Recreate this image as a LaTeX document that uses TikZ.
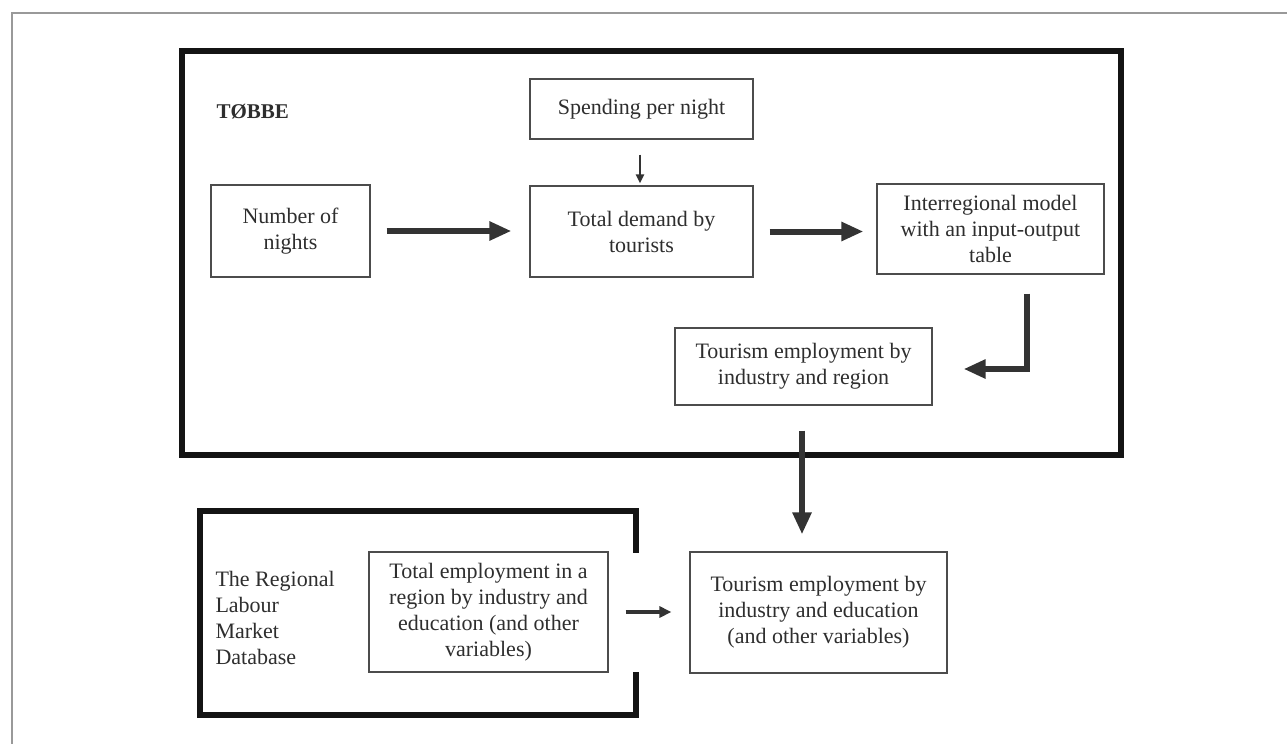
\documentclass[tikz,border=0pt]{standalone}
\usepackage{fontspec}
\setmainfont{Liberation Serif}
\usetikzlibrary{arrows.meta}
\begin{document}
\begin{tikzpicture}[x=1pt,y=-1pt,
  every node/.style={font=\fontsize{22}{26}\selectfont, text=black!82},
  box/.style={draw=black!70, line width=1.2pt, inner sep=0pt, align=center},
  frame/.style={draw=black!92, line width=6pt, line join=miter, line cap=rect},
  bigarrow/.style={draw=black!80, line width=6pt, -{Triangle[length=22pt,width=18pt]}},
  midarrow/.style={draw=black!80, line width=3.5pt, -{Triangle[length=12pt,width=11pt]}},
  thinarrow/.style={draw=black!80, line width=2pt, -{Triangle[length=9pt,width=8pt]}}]
\useasboundingbox (0,0) rectangle (1287,744);
\fill[white] (0,0) rectangle (1287,744);
% page border
\draw[black!40, line width=1.5pt] (1287,13) -- (12,13) -- (12,744);
% frames
\draw[frame] (182,51) rectangle (1121,455);
\draw[frame] (636,550) -- (636,511) -- (200,511) -- (200,715) -- (636,715) -- (636,675);
% labels
\node[anchor=west, font=\bfseries\fontsize{21}{25}\selectfont] (tobbe) at (213,112) {TØBBE};
\node[anchor=west, align=left] (rlmd) at (212,618) {The Regional\\Labour\\Market\\Database};
% boxes
\node[box, minimum width=223pt, minimum height=60pt] (spend) at (641.5,109) {Spending per night};
\node[box, minimum width=223pt, minimum height=91pt] (total) at (641.5,231.5) {Total demand by\\tourists};
\node[box, minimum width=159pt, minimum height=92pt] (nights) at (290.5,231) {Number of\\nights};
\node[box, minimum width=227pt, minimum height=90pt] (inter) at (990.5,229) {Interregional model\\with an input-output\\table};
\node[box, minimum width=257pt, minimum height=77pt] (temreg) at (803.5,366.5) {Tourism employment by\\industry and region};
\node[box, minimum width=257pt, minimum height=121pt] (temedu) at (818.5,612.5) {Tourism employment by\\industry and education\\(and other variables)};
\node[box, minimum width=239pt, minimum height=120pt] (totemp) at (488.5,612) {Total employment in a\\region by industry and\\education (and other\\variables)};
% connectors
\draw[bigarrow] ([xshift=16pt]nights.east) -- ([xshift=-18pt]nights.east -| total.west);
\draw[bigarrow] ([xshift=16pt]total.east) -- ([xshift=-13pt]total.east -| inter.west);
\draw[thinarrow] ([xshift=-1.5pt,yshift=-15pt]spend.south) -- ([xshift=-1.5pt,yshift=2pt]total.north);
\draw[bigarrow, line join=miter] ([xshift=36.5pt,yshift=-19pt]inter.south) |- ([xshift=31pt,yshift=-2.5pt]temreg.east);
\draw[bigarrow] ([xshift=-1.5pt,yshift=-25pt]temreg.south) -- ([xshift=-16.5pt,yshift=17pt]temedu.north);
\draw[midarrow] ([xshift=17pt]totemp.east) -- ([xshift=-18pt]totemp.east -| temedu.west);
\end{tikzpicture}
\end{document}
